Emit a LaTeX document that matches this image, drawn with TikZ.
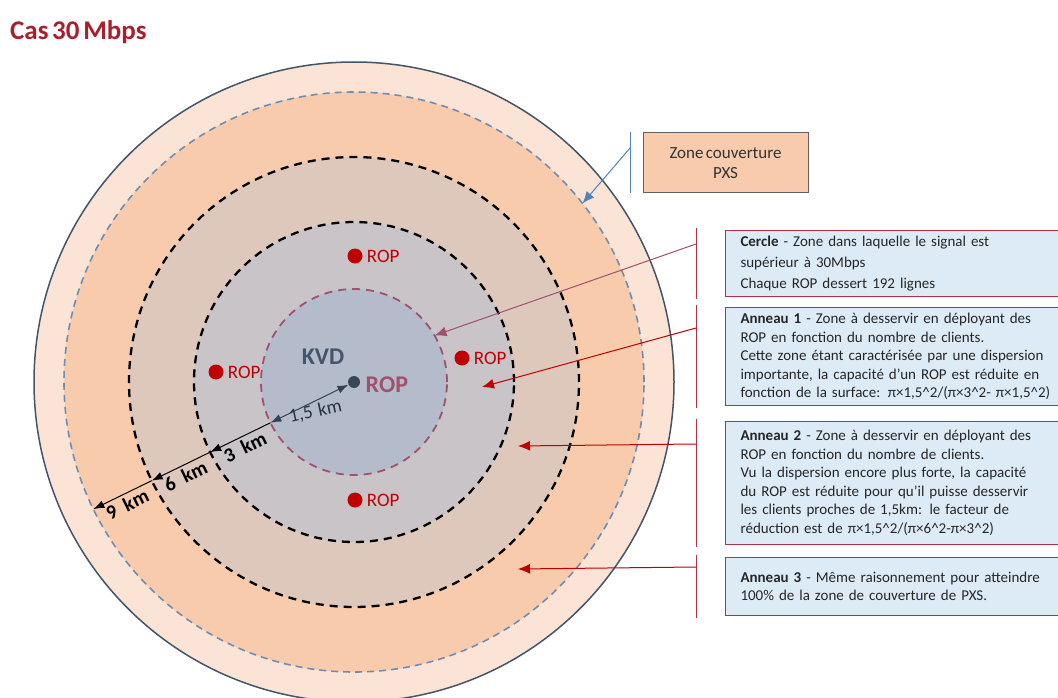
\documentclass[tikz,border=0pt]{standalone}
\usepackage{fontspec}
\setmainfont{Carlito}[WordSpace=0.6]
\usepackage{xcolor}
\usetikzlibrary{arrows.meta, positioning}

\definecolor{peachpale}{HTML}{FBE4D5}
\definecolor{peach}{HTML}{F8CBAD}
\definecolor{ringtan}{HTML}{DDC8BB}
\definecolor{ringgray}{HTML}{C9C4C8}
\definecolor{coreblue}{HTML}{B4BCCC}
\definecolor{slate}{HTML}{44546A}
\definecolor{dashblue}{HTML}{6F8DB0}
\definecolor{mauve}{HTML}{A0526C}
\definecolor{ropred}{HTML}{C00000}
\definecolor{boxblue}{HTML}{DDEBF7}
\definecolor{boxred}{HTML}{B23040}
\definecolor{titlered}{HTML}{A8202E}
\definecolor{calloutblue}{HTML}{4F83BE}

\begin{document}
\begin{tikzpicture}[
    x=1pt, y=-1pt,
    font=\fontsize{15}{18.5}\selectfont,
    >=Latex,
    ring/.style={
        circle,
        inner sep=0pt,
        outer sep=0pt,
        minimum size=#1
    },
    kmdash/.style={
        draw=black,
        line width=2.3pt,
        dash pattern=on 8pt off 6pt
    },
    rop/.style={
        circle,
        fill=ropred,
        inner sep=0pt,
        minimum size=15pt
    },
    roplabel/.style={
        text=ropred,
        inner sep=1pt,
        font=\fontsize{19}{20}\selectfont
    },
    km/.style={
        font=\fontsize{20}{22}\selectfont\bfseries,
        sloped,
        below,
        inner sep=3pt
    },
    note/.style={
        draw=boxred,
        line width=1pt,
        fill=boxblue,
        anchor=north west,
        align=left,
        text width=315pt,
        inner xsep=15pt,
        inner ysep=3pt,
        text=black!85
    },
    bracket/.style={
        draw=boxred,
        line width=1pt
    },
    callout/.style={
        draw=ropred,
        line width=1pt,
        -{Latex[length=12pt,width=10pt]}
    },
    measure/.style={
        line width=1pt,
        -{Latex[length=11pt,width=8pt]}
    }
]
\useasboundingbox (0,0) rectangle (1058,698);

% Title
\node[anchor=west, inner sep=0pt, text=titlered, font=\fontsize{27}{30}\selectfont\bfseries] (title) at (10,32) {Cas 30 Mbps};

% Rings, outside in
\coordinate (c) at (354,382);
\node[ring=640pt, fill=peachpale, draw=slate, line width=1.5pt] (outer) at (c) {};
\node[ring=580pt, fill=peach, draw=dashblue, line width=1.6pt, dash pattern=on 7pt off 5pt] (pxs) at (c) {};
\node[ring=450pt, fill=ringtan, kmdash] (r6) at (c) {};
\node[ring=320pt, fill=ringgray, kmdash] (r3) at (c) {};
\node[ring=186pt, fill=coreblue, draw=mauve, line width=1.8pt, dash pattern=on 8pt off 6pt] (r15) at (c) {};

% KVD in the centre
\node[circle, fill=slate!85!black, inner sep=0pt, minimum size=12pt] (kvd) at (c) {};
\node[text=slate, font=\fontsize{24}{26}\selectfont\bfseries] (kvdname) at (323,357) {KVD};
\node[right=2pt of kvd, yshift=-3pt, text=mauve, font=\fontsize{24}{26}\selectfont\bfseries] (kvdrop) {ROP};

% ROP around
\node[rop] (ropn) at (355,256) {};
\node[roplabel, right=3pt of ropn] (ropnl) {ROP};
\node[rop] (rope) at (462,358) {};
\node[roplabel, right=3pt of rope] (ropel) {ROP};
\node[rop] (ropw) at (216,372) {};
\node[roplabel, right=3pt of ropw] (ropwl) {ROP};
\node[rop] (rops) at (355,500) {};
\node[roplabel, right=3pt of rops] (ropsl) {ROP};

% Distances
\draw[line width=1pt, {Latex[length=11pt,width=8pt]}-{Latex[length=11pt,width=8pt]}, draw=slate!80!black] (r15.206) -- node[pos=0.55, below, rotate=12, inner sep=2pt, text=slate!60!black, font=\fontsize{19}{20}\selectfont] (d15) {1,5\hspace{0.3em}km} (kvd);
\draw[measure] (r15.206) -- node[km] (d3) {3\hspace{0.45em}km} (r3.206);
\draw[measure] (r3.206) -- node[km] (d6) {6\hspace{0.45em}km} (r6.206);
\draw[measure] (r6.206) -- node[km] (d9) {9\hspace{0.45em}km} (pxs.206);

% Zone couverture PXS
\node[draw=gray!75!black, fill=peach, line width=1pt, minimum width=165pt, minimum height=60pt, align=center, text=black!80, font=\fontsize{17}{20}\selectfont] (zonepxs) at (725.5,163) {Zone couverture\\PXS};
\draw[calloutblue, line width=1pt] ([xshift=-12pt]zonepxs.north west) -- ([xshift=-12pt]zonepxs.south west);
\draw[calloutblue, line width=1pt, -{Latex[length=12pt,width=10pt]}] ([xshift=-12pt,yshift=-15pt]zonepxs.north west) -- (pxs.38);

% Notes on the right
\node[note, minimum height=66pt, font=\fontsize{15}{21}\selectfont] (cercle) at (725,230) {\textbf{Cercle} - Zone dans laquelle le signal est\\supérieur à 30Mbps\\Chaque ROP dessert 192 lignes};
\node[note, minimum height=98pt] (anneau1) at (725,307) {\textbf{Anneau 1} - Zone à desservir en déployant des\\ROP en fonction du nombre de clients.\\Cette zone étant caractérisée par une dispersion\\importante, la capacité d’un ROP est réduite en\\fonction de la surface: π×1,5\textasciicircum2/(π×3\textasciicircum2- π×1,5\textasciicircum2)};
\node[note, minimum height=123pt] (anneau2) at (725,421) {\textbf{Anneau 2} - Zone à desservir en déployant des\\ROP en fonction du nombre de clients.\\Vu la dispersion encore plus forte, la capacité\\du ROP est réduite pour qu’il puisse desservir\\les clients proches de 1,5km: le facteur de\\réduction est de π×1,5\textasciicircum2/(π×6\textasciicircum2-π×3\textasciicircum2)};
\node[note, minimum height=58pt] (anneau3) at (725,557) {\textbf{Anneau 3} - Même raisonnement pour atteindre\\100\% de la zone de couverture de PXS.};

% Callouts
\coordinate (a1) at (482,387);
\coordinate (a2) at (518,446);
\coordinate (a3) at (518,569);
\foreach \n in {cercle, anneau1, anneau2, anneau3}
    \draw[bracket] ([xshift=-29pt,yshift=2pt]\n.north west) -- ([xshift=-29pt,yshift=-2pt]\n.south west);
\draw[callout, draw=mauve] ([xshift=-29pt,yshift=-14pt]cercle.north west) -- (r15.30);
\draw[callout] ([xshift=-29pt,yshift=-21pt]anneau1.north west) -- (a1);
\draw[callout] ([xshift=-29pt,yshift=-23pt]anneau2.north west) -- (a2);
\draw[callout] ([xshift=-29pt,yshift=-10pt]anneau3.north west) -- (a3);

\end{tikzpicture}
\end{document}
